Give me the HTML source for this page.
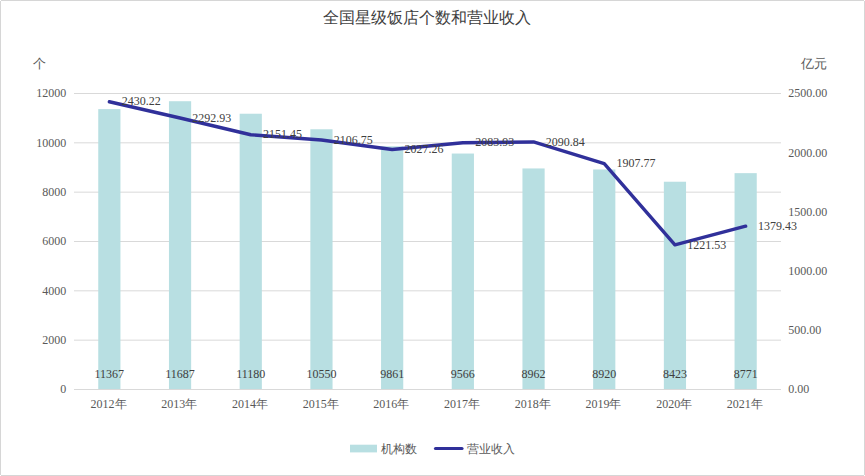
<!DOCTYPE html>
<html><head><meta charset="utf-8"><style>
html,body{margin:0;padding:0;background:#fff;}
#c{position:relative;width:865px;height:476px;overflow:hidden;}
#c:before{content:"";position:absolute;left:0;top:0;right:0;bottom:0;border:1px solid #D6D6D6;}
.k{position:absolute;width:1px;height:1px;background:#fff;z-index:2;}
svg{position:absolute;left:0;top:0;font-family:"Liberation Serif",serif;}
</style></head><body><div id="c">
<svg width="865" height="476" viewBox="0 0 865 476">
<line x1="74" x2="781" y1="93.50" y2="93.50" stroke="#D9D9D9" stroke-width="1"/>
<line x1="74" x2="781" y1="142.83" y2="142.83" stroke="#D9D9D9" stroke-width="1"/>
<line x1="74" x2="781" y1="192.17" y2="192.17" stroke="#D9D9D9" stroke-width="1"/>
<line x1="74" x2="781" y1="241.50" y2="241.50" stroke="#D9D9D9" stroke-width="1"/>
<line x1="74" x2="781" y1="290.83" y2="290.83" stroke="#D9D9D9" stroke-width="1"/>
<line x1="74" x2="781" y1="340.17" y2="340.17" stroke="#D9D9D9" stroke-width="1"/>
<rect x="98.25" y="109.11" width="22.2" height="280.39" fill="#B8DFE2"/>
<rect x="168.95" y="101.22" width="22.2" height="288.28" fill="#B8DFE2"/>
<rect x="239.65" y="113.73" width="22.2" height="275.77" fill="#B8DFE2"/>
<rect x="310.35" y="129.27" width="22.2" height="260.23" fill="#B8DFE2"/>
<rect x="381.05" y="146.26" width="22.2" height="243.24" fill="#B8DFE2"/>
<rect x="451.75" y="153.54" width="22.2" height="235.96" fill="#B8DFE2"/>
<rect x="522.45" y="168.44" width="22.2" height="221.06" fill="#B8DFE2"/>
<rect x="593.15" y="169.47" width="22.2" height="220.03" fill="#B8DFE2"/>
<rect x="663.85" y="181.73" width="22.2" height="207.77" fill="#B8DFE2"/>
<rect x="734.55" y="173.15" width="22.2" height="216.35" fill="#B8DFE2"/>
<line x1="74" x2="781" y1="389.5" y2="389.5" stroke="#D9D9D9" stroke-width="1"/>
<polyline points="109.35,101.76 180.05,118.02 250.75,134.77 321.45,140.06 392.15,149.47 462.85,142.76 533.55,141.94 604.25,163.62 674.95,244.87 745.65,226.18" fill="none" stroke="#30309A" stroke-width="3.4" stroke-linejoin="round" stroke-linecap="round"/>
<text x="66.3" y="97.30" text-anchor="end" font-size="12" fill="#595959">12000</text>
<text x="66.3" y="146.63" text-anchor="end" font-size="12" fill="#595959">10000</text>
<text x="66.3" y="195.97" text-anchor="end" font-size="12" fill="#595959">8000</text>
<text x="66.3" y="245.30" text-anchor="end" font-size="12" fill="#595959">6000</text>
<text x="66.3" y="294.63" text-anchor="end" font-size="12" fill="#595959">4000</text>
<text x="66.3" y="343.97" text-anchor="end" font-size="12" fill="#595959">2000</text>
<text x="66.3" y="393.30" text-anchor="end" font-size="12" fill="#595959">0</text>
<text x="788.2" y="97.30" font-size="12" fill="#595959">2500.00</text>
<text x="788.2" y="156.50" font-size="12" fill="#595959">2000.00</text>
<text x="788.2" y="215.70" font-size="12" fill="#595959">1500.00</text>
<text x="788.2" y="274.90" font-size="12" fill="#595959">1000.00</text>
<text x="788.2" y="334.10" font-size="12" fill="#595959">500.00</text>
<text x="788.2" y="393.30" font-size="12" fill="#595959">0.00</text>
<text x="108.55" y="408" text-anchor="middle" font-size="12" fill="#595959">2012年</text>
<text x="179.25" y="408" text-anchor="middle" font-size="12" fill="#595959">2013年</text>
<text x="249.95" y="408" text-anchor="middle" font-size="12" fill="#595959">2014年</text>
<text x="320.65" y="408" text-anchor="middle" font-size="12" fill="#595959">2015年</text>
<text x="391.35" y="408" text-anchor="middle" font-size="12" fill="#595959">2016年</text>
<text x="462.05" y="408" text-anchor="middle" font-size="12" fill="#595959">2017年</text>
<text x="532.75" y="408" text-anchor="middle" font-size="12" fill="#595959">2018年</text>
<text x="603.45" y="408" text-anchor="middle" font-size="12" fill="#595959">2019年</text>
<text x="674.15" y="408" text-anchor="middle" font-size="12" fill="#595959">2020年</text>
<text x="744.85" y="408" text-anchor="middle" font-size="12" fill="#595959">2021年</text>
<text x="109.35" y="378.2" text-anchor="middle" font-size="12" fill="#404040">11367</text>
<text x="180.05" y="378.2" text-anchor="middle" font-size="12" fill="#404040">11687</text>
<text x="250.75" y="378.2" text-anchor="middle" font-size="12" fill="#404040">11180</text>
<text x="321.45" y="378.2" text-anchor="middle" font-size="12" fill="#404040">10550</text>
<text x="392.15" y="378.2" text-anchor="middle" font-size="12" fill="#404040">9861</text>
<text x="462.85" y="378.2" text-anchor="middle" font-size="12" fill="#404040">9566</text>
<text x="533.55" y="378.2" text-anchor="middle" font-size="12" fill="#404040">8962</text>
<text x="604.25" y="378.2" text-anchor="middle" font-size="12" fill="#404040">8920</text>
<text x="674.95" y="378.2" text-anchor="middle" font-size="12" fill="#404040">8423</text>
<text x="745.65" y="378.2" text-anchor="middle" font-size="12" fill="#404040">8771</text>
<text x="121.65" y="105.46" font-size="12" fill="#404040">2430.22</text>
<text x="192.35" y="121.72" font-size="12" fill="#404040">2292.93</text>
<text x="263.05" y="138.47" font-size="12" fill="#404040">2151.45</text>
<text x="333.75" y="143.76" font-size="12" fill="#404040">2106.75</text>
<text x="404.45" y="153.17" font-size="12" fill="#404040">2027.26</text>
<text x="475.15" y="146.46" font-size="12" fill="#404040">2083.93</text>
<text x="545.85" y="145.64" font-size="12" fill="#404040">2090.84</text>
<text x="616.55" y="167.32" font-size="12" fill="#404040">1907.77</text>
<text x="687.25" y="248.57" font-size="12" fill="#404040">1221.53</text>
<text x="757.95" y="229.88" font-size="12" fill="#404040">1379.43</text>
<text x="33" y="68" font-size="12.5" fill="#595959">个</text>
<text x="827" y="68" text-anchor="end" font-size="12.5" fill="#595959">亿元</text>
<text x="427.3" y="23" text-anchor="middle" font-size="16" fill="#404040">全国星级饭店个数和营业收入</text>
<rect x="350" y="444.7" width="27" height="7.7" fill="#B8DFE2"/>
<text x="381" y="453" font-size="12" fill="#595959">机构数</text>
<line x1="435.5" x2="462" y1="448.5" y2="448.5" stroke="#30309A" stroke-width="3.2" stroke-linecap="round"/>
<text x="467" y="453" font-size="12" fill="#595959">营业收入</text>
</svg><div class="k" style="left:0;top:0"></div><div class="k" style="right:0;top:0"></div><div class="k" style="left:0;bottom:0"></div><div class="k" style="right:0;bottom:0"></div></div></body></html>
